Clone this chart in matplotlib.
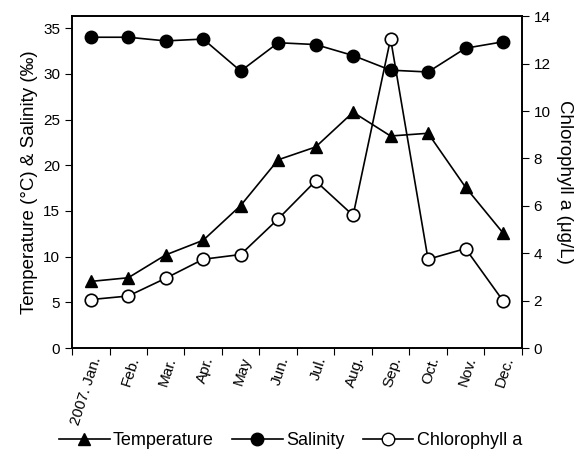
import numpy as np
import matplotlib.pyplot as plt
from matplotlib.lines import Line2D

plt.rcParams['font.family'] = ['Liberation Sans', 'DejaVu Sans']

months = ['2007. Jan.', 'Feb.', 'Mar.', 'Apr.', 'May', 'Jun.', 'Jul.',
          'Aug.', 'Sep.', 'Oct.', 'Nov.', 'Dec.']
temperature = [7.3, 7.7, 10.2, 11.8, 15.6, 20.6, 22.0, 25.8, 23.2, 23.5, 17.6, 12.6]
salinity = [34.0, 34.0, 33.6, 33.8, 30.3, 33.4, 33.2, 32.0, 30.4, 30.2, 32.8, 33.5]
chlorophyll = [2.05, 2.2, 2.95, 3.75, 3.95, 5.45, 7.05, 5.6, 13.05, 3.75, 4.2, 2.0]

x = np.arange(len(months)) + 0.5

fig = plt.figure(figsize=(5.81, 4.63), dpi=100)
ax1 = fig.add_axes([0.124, 0.248, 0.774, 0.717])
ax2 = ax1.twinx()

ax1.plot(x, temperature, color='black', marker='^', markersize=9, lw=1.2)
ax1.plot(x, salinity, color='black', marker='o', markersize=9, lw=1.2)
ax2.plot(x, chlorophyll, color='black', marker='o', markersize=9, lw=1.2,
         markerfacecolor='white', markeredgewidth=1.2)

ax1.set_xlim(0, 12)
ax1.set_ylim(0, 36.3)
ax1.set_yticks(range(0, 36, 5))
ax2.set_ylim(0, 14)
ax2.set_yticks(range(0, 15, 2))

ax1.set_xticks(range(0, 13))
ax1.set_xticklabels([])
ax1.set_xticks(x, minor=True)
ax1.set_xticklabels(months, minor=True, rotation=72, ha='right',
                    rotation_mode='anchor', fontsize=11)
ax1.tick_params(axis='x', which='minor', length=0, pad=5)
ax1.tick_params(axis='x', which='major', length=5, direction='out')
ax1.tick_params(axis='y', labelsize=11, length=5)
ax2.tick_params(axis='y', labelsize=11, length=5)

ax1.set_ylabel('Temperature (°C) & Salinity (‰)', fontsize=13.5)
ax2.set_ylabel('Chlorophyll a (μg/L)', fontsize=13.5, rotation=270, labelpad=16)

for a in (ax1, ax2):
    for s in a.spines.values():
        s.set_linewidth(1.2)

handles = [
    Line2D([], [], color='black', marker='^', markersize=9, lw=1.2),
    Line2D([], [], color='black', marker='o', markersize=9, lw=1.2),
    Line2D([], [], color='black', marker='o', markersize=9, lw=1.2,
           markerfacecolor='white'),
]
fig.legend(handles, ['Temperature', 'Salinity', 'Chlorophyll a'], ncol=3,
           loc='lower center', bbox_to_anchor=(0.5, -0.005), frameon=False,
           fontsize=13, handlelength=2.8, handletextpad=0.2, columnspacing=1.0)

fig.savefig('out.png', dpi=100)
